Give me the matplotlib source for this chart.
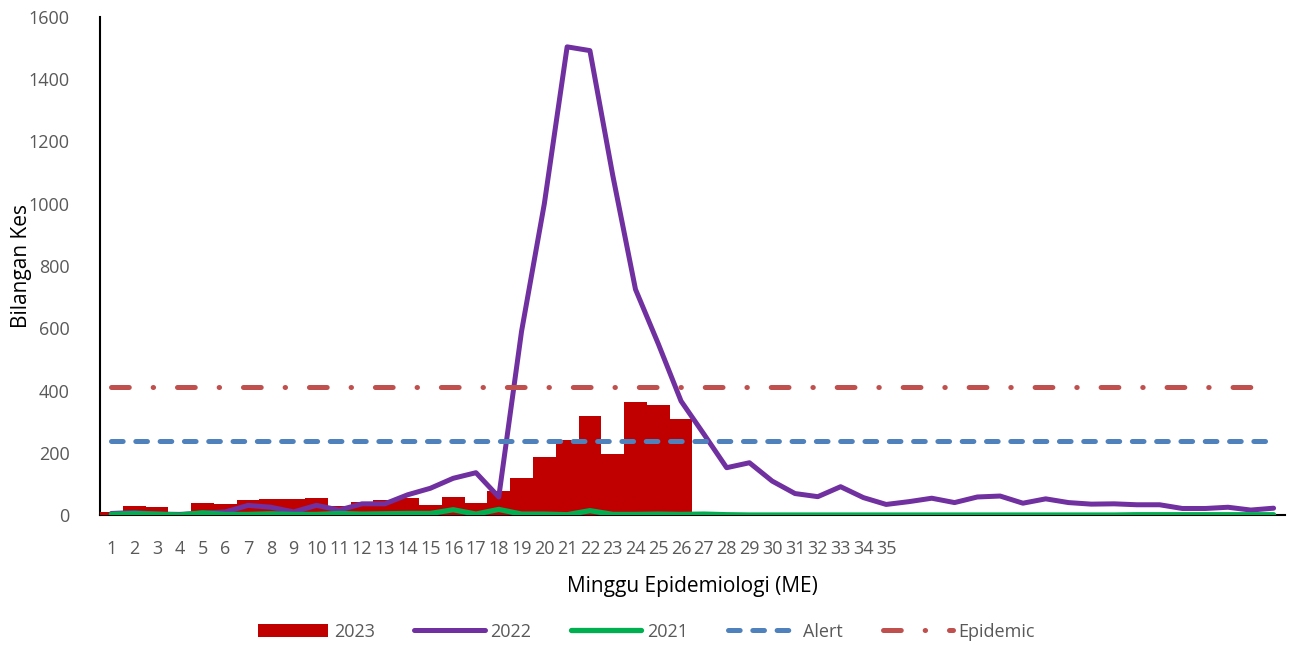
import numpy as np
import matplotlib.pyplot as plt

plt.rcParams['font.family'] = ['Open Sans', 'DejaVu Sans']
plt.rcParams['lines.scale_dashes'] = False

minggu = list(range(1, 53))
kes_2023 = [10, 29, 27, 3, 40, 35, 49, 51, 50, 55, 29, 43, 49, 56, 32, 59, 40, 77,
            120, 187, 241, 319, 197, 363, 354, 309]
kes_2022 = [5, 8, 3, 2, 6, 10, 31, 25, 10, 31, 16, 36, 36, 65, 86, 118, 136, 58,
            590, 1000, 1504, 1492, 1092, 725, 550, 366, 260, 152, 168, 109, 69, 59,
            91, 56, 34, 43, 54, 40, 58, 61, 38, 52, 40, 35, 36, 33, 33, 21, 21, 25,
            16, 22]
kes_2021 = [2, 5, 3, 0, 7, 2, 2, 4, 2, 2, 5, 3, 4, 5, 5, 17, 3, 18, 3, 3, 1, 14,
            2, 2, 3, 2, 3, 1, 0, 0, 0, 0, 0, 0, 0, 0, 0, 0, 0, 0, 0, 0, 0, 0, 0,
            1, 1, 1, 1, 1, 1, 1]
alert = [238] * 52
epidemic = [412] * 52
label_minggu = [str(m) for m in range(1, 36)]

fig = plt.figure(figsize=(12.93, 6.48), dpi=100)
ax = fig.add_axes([0.0773, 0.2052, 0.9165, 0.7686])

x = np.arange(len(minggu))
b23 = ax.bar(x[:len(kes_2023)], kes_2023, width=1.0, color='#C00000', label='2023', zorder=2)
l22, = ax.plot(x, kes_2022, color='#7030A0', lw=3.6, label='2022', zorder=3,
               solid_capstyle='round', solid_joinstyle='round')
l21, = ax.plot(x, kes_2021, color='#00B050', lw=3.8, label='2021', zorder=4,
               solid_capstyle='round', solid_joinstyle='round')
la, = ax.plot(x, alert, color='#4F81BD', lw=3.6, dashes=(8.4, 9.1), dash_capstyle='round',
              label='Alert', zorder=5)
le, = ax.plot(x, epidemic, color='#C0504D', lw=3.6, dashes=(12.8, 17.2, 0.3, 17.2),
              dash_capstyle='round', label='Epidemic', zorder=5)

ax.set_xlim(-0.5, len(minggu) - 0.5)
ax.set_ylim(0, 1600)
ax.set_yticks(range(0, 1601, 200))
ax.set_xticks(range(len(label_minggu)))
ax.set_xticklabels(label_minggu)
ax.tick_params(axis='both', length=0, labelsize=13, colors='#595959')
ax.tick_params(axis='y', pad=22)
ax.tick_params(axis='x', pad=18)

for s in ['top', 'right']:
    ax.spines[s].set_visible(False)
for s in ['left', 'bottom']:
    ax.spines[s].set_color('black')
    ax.spines[s].set_linewidth(1.5)
    ax.spines[s].set_zorder(1)

ax.set_ylabel('Bilangan Kes', fontsize=15, color='black', labelpad=-3)
ax.set_xlabel('Minggu Epidemiologi (ME)', fontsize=15, color='black', labelpad=13)

leg = fig.legend([b23, l22, l21, la, le], ['2023', '2022', '2021', 'Alert', 'Epidemic'],
                 loc='center', bbox_to_anchor=(0.5, 0.025), ncol=5, frameon=False,
                 fontsize=13, handlelength=3.9, columnspacing=2.2, handletextpad=0.3)
for t in leg.get_texts():
    t.set_color('#595959')

fig.savefig('out.png', dpi=100)
